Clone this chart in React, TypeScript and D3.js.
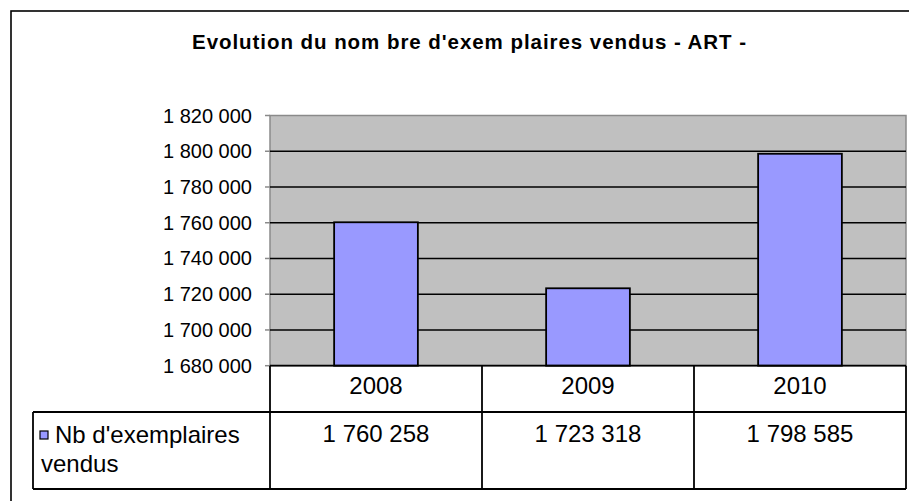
import { useEffect, useRef } from 'react';
import * as d3 from 'd3';

const years = ['2008', '2009', '2010'];
const sold = [1760258, 1723318, 1798585];
const yTicks = [1680000, 1700000, 1720000, 1740000, 1760000, 1780000, 1800000, 1820000];
const seriesName = ["Nb d'exemplaires", 'vendus'];
const chartTitle = "Evolution du nom bre d'exem plaires vendus - ART -";

const fmt = (v: number) => d3.format(',')(v).replace(/,/g, ' ');

export default function App() {
  const svgRef = useRef<SVGSVGElement>(null);

  useEffect(() => {
    if (!svgRef.current) return;
    const svg = d3.select(svgRef.current);
    svg.selectAll('*').remove();

    const width = 909;
    const height = 501;
    const font = "'Liberation Sans', Arial, sans-serif";

    // plot area box
    const left = 270;
    const right = 906;
    const top = 115.5;
    const bottom = 365.7;
    const headerBottom = 412;
    const tableBottom = 489;
    const legendLeft = 33;

    svg.append('rect').attr('width', width).attr('height', height).attr('fill', '#fff');

    // outer chart border (runs off the right/bottom edge)
    svg.append('rect')
      .attr('x', 11).attr('y', 11)
      .attr('width', 1000).attr('height', 1000)
      .attr('fill', 'none').attr('stroke', '#000').attr('stroke-width', 1.6);

    svg.append('text')
      .attr('x', 469).attr('y', 49)
      .attr('text-anchor', 'middle')
      .attr('font-family', font).attr('font-size', 20.5).attr('font-weight', 'bold')
      .attr('textLength', 554).attr('lengthAdjust', 'spacing')
      .text(chartTitle);

    const y = d3.scaleLinear().domain([1680000, 1820000]).range([bottom, top]);
    const x = d3.scaleBand<string>().domain(years).range([left, right]).paddingInner(0.605).paddingOuter(0.3025);
    const cols = d3.scaleBand<string>().domain(years).range([left, right]).padding(0);

    svg.append('rect')
      .attr('x', left).attr('y', top)
      .attr('width', right - left).attr('height', bottom - top)
      .attr('fill', '#c0c0c0').attr('stroke', '#8a8a8a').attr('stroke-width', 1.5);

    // gridlines
    svg.append('g').selectAll('line')
      .data(yTicks.filter(t => t > 1680000 && t < 1820000))
      .join('line')
      .attr('x1', left).attr('x2', right)
      .attr('y1', d => y(d)).attr('y2', d => y(d))
      .attr('stroke', '#000').attr('stroke-width', 1.6);

    // y axis ticks + labels
    const ax = svg.append('g');
    ax.selectAll('line')
      .data(yTicks)
      .join('line')
      .attr('x1', left - 5).attr('x2', left)
      .attr('y1', d => y(d)).attr('y2', d => y(d))
      .attr('stroke', '#8a8a8a').attr('stroke-width', 1.5);
    ax.selectAll('text')
      .data(yTicks)
      .join('text')
      .attr('x', 252).attr('y', d => y(d) + 7)
      .attr('text-anchor', 'end')
      .attr('font-family', font).attr('font-size', 20)
      .attr('fill', '#000')
      .text(d => fmt(d));

    // bars
    svg.append('g').selectAll('rect')
      .data(years)
      .join('rect')
      .attr('x', d => x(d)!)
      .attr('width', x.bandwidth())
      .attr('y', (d, i) => y(sold[i]))
      .attr('height', (d, i) => bottom - y(sold[i]))
      .attr('fill', '#9999ff')
      .attr('stroke', '#000').attr('stroke-width', 1.8);

    // data table
    const tbl = svg.append('g').attr('stroke', '#000').attr('stroke-width', 1.8).attr('fill', 'none');
    tbl.append('line').attr('x1', left).attr('x2', right).attr('y1', bottom).attr('y2', bottom);
    tbl.append('line').attr('x1', legendLeft).attr('x2', right).attr('y1', headerBottom).attr('y2', headerBottom);
    tbl.append('line').attr('x1', legendLeft).attr('x2', right).attr('y1', tableBottom).attr('y2', tableBottom);
    tbl.append('line').attr('x1', legendLeft).attr('x2', legendLeft).attr('y1', headerBottom).attr('y2', tableBottom);
    const edges = [left, ...years.map(d => cols(d)! + cols.bandwidth())];
    tbl.selectAll('line.v')
      .data(edges)
      .join('line')
      .attr('class', 'v')
      .attr('x1', d => d).attr('x2', d => d)
      .attr('y1', bottom).attr('y2', tableBottom);

    svg.append('g').selectAll('text')
      .data(years)
      .join('text')
      .attr('x', d => cols(d)! + cols.bandwidth() / 2)
      .attr('y', 394)
      .attr('text-anchor', 'middle')
      .attr('font-family', font).attr('font-size', 24)
      .text(d => d);

    svg.append('g').selectAll('text')
      .data(sold)
      .join('text')
      .attr('x', (d, i) => cols(years[i])! + cols.bandwidth() / 2)
      .attr('y', 442)
      .attr('text-anchor', 'middle')
      .attr('font-family', font).attr('font-size', 24)
      .text(d => fmt(d));

    // legend key in the table
    svg.append('rect')
      .attr('x', 40).attr('y', 431)
      .attr('width', 8).attr('height', 8)
      .attr('fill', '#9999ff').attr('stroke', '#000').attr('stroke-width', 1.2);
    svg.append('text')
      .attr('x', 55).attr('y', 443)
      .attr('font-family', font).attr('font-size', 24)
      .text(seriesName[0]);
    svg.append('text')
      .attr('x', 41).attr('y', 472)
      .attr('font-family', font).attr('font-size', 24)
      .text(seriesName[1]);
  }, []);

  return (
    <svg
      ref={svgRef}
      width={909}
      height={501}
      style={{ position: 'absolute', left: 0, top: 0, display: 'block' }}
    />
  );
}
